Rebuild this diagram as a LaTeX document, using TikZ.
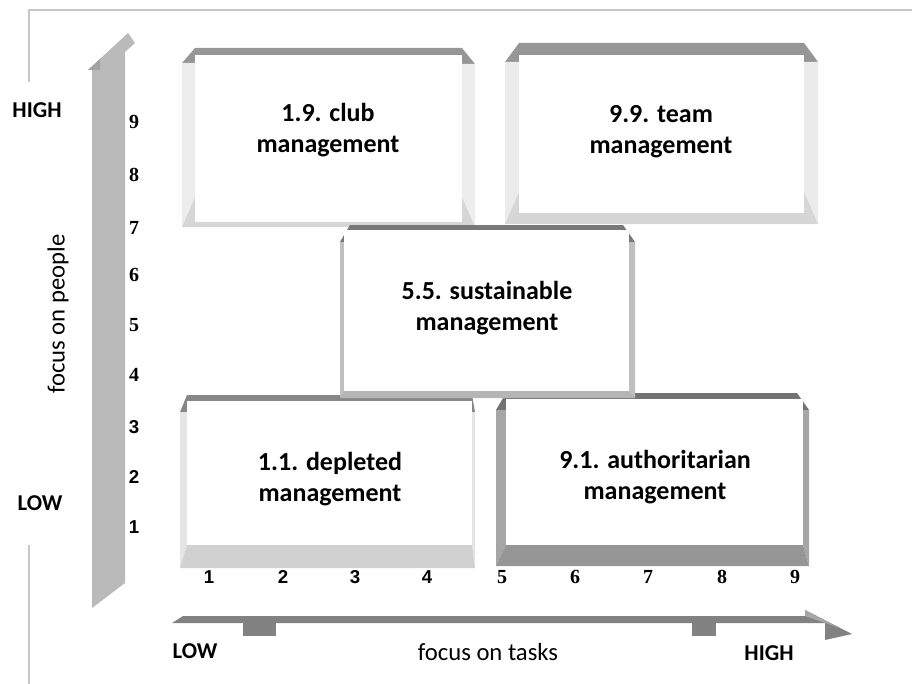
\documentclass[tikz,border=0pt]{standalone}
\usepackage{fontspec}
\setmainfont{Carlito}
\newfontfamily\digitsans{Liberation Sans}
\newfontfamily\digitserif{Liberation Serif}
\usepackage{tikz}

\begin{document}
\begin{tikzpicture}[x=0.75pt,y=-0.75pt,
  boxtext/.style={font=\fontsize{19.5}{23.5}\selectfont\bfseries, align=center},
  lohi/.style={font=\fontsize{17}{20}\selectfont\bfseries},
  axistitle/.style={font=\fontsize{18.5}{22}\selectfont},
  numsans/.style={font=\fontsize{14}{16}\selectfont\digitsans\bfseries},
  numserif/.style={font=\fontsize{15}{17}\selectfont\digitserif\bfseries},
  frameline/.style={line width=1.1pt, black!22}]
\useasboundingbox (0,0) rectangle (912,684);

\draw [frameline] (29,82) -- (29,10) -- (912,10);
\draw [frameline] (29,545) -- (29,684);

% axes
\fill [black!27] (92,608) -- (92,70) -- (88,70) -- (128,33) -- (135,43) -- (125,52) -- (125,583) -- cycle;
\fill [black!36] (88,70) -- (100,59) -- (100,70) -- cycle;

\fill [black!49] (172,623) -- (183,616) -- (805,616) -- (805,610) -- (852,634) -- (825,640) -- (825,623) -- cycle;
\fill [black!35] (805,610) -- (840,628) -- (805,616) -- cycle;
\fill [black!49] (243,620) rectangle (276,636);
\fill [black!49] (692,620) rectangle (716,636);

% 1.1 box
\fill [black!47] (180,412) -- (187,395) -- (472,395) -- (475,412) -- (472,412) -- (472,401) -- (187,401) -- (187,412) -- cycle;
\fill [black!10] (180,412) -- (187,412) -- (187,545) -- (180,568) -- cycle;
\fill [black!10] (475,412) -- (472,412) -- (472,545) -- (475,568) -- cycle;
\fill [black!18] (180,568) -- (187,545) -- (472,545) -- (475,568) -- cycle;
\fill [white] (187,401) rectangle (472,545);

% 9.1 box
\fill [black!55] (496,410) -- (506,393) -- (797,393) -- (809,410) -- (803,410) -- (803,399) -- (506,399) -- (506,410) -- cycle;
\fill [black!35] (496,410) -- (506,410) -- (506,545) -- (496,566) -- cycle;
\fill [black!35] (809,410) -- (803,410) -- (803,545) -- (809,566) -- cycle;
\fill [black!41] (496,566) -- (506,545) -- (803,545) -- (809,566) -- cycle;
\fill [white] (506,399) rectangle (803,545);

% 1.9 box
\fill [black!41] (182,63) -- (195,48) -- (462,48) -- (475,64) -- (462,64) -- (462,55) -- (195,55) -- (195,63) -- cycle;
\fill [black!7] (182,63) -- (195,63) -- (195,197) -- (182,227) -- cycle;
\fill [black!7] (475,64) -- (462,64) -- (462,197) -- (475,227) -- cycle;
\fill [black!16] (182,227) -- (195,197) -- (195,222) -- (462,222) -- (462,197) -- (475,227) -- cycle;
\fill [white] (195,55) rectangle (462,222);

% 9.9 box
\fill [black!41] (505,62) -- (519,43) -- (804,43) -- (818,62) -- (804,62) -- (804,55) -- (519,55) -- (519,62) -- cycle;
\fill [black!8] (505,62) -- (519,62) -- (519,192) -- (505,224) -- cycle;
\fill [black!8] (818,62) -- (804,62) -- (804,192) -- (818,224) -- cycle;
\fill [black!16] (505,224) -- (519,192) -- (519,213) -- (804,213) -- (804,192) -- (818,224) -- cycle;
\fill [white] (519,55) rectangle (804,213);

% 5.5 box, on top of the others
\fill [black!53] (340,242) -- (350,225) -- (623,225) -- (635,242) -- (629,242) -- (629,230) -- (344,230) -- (344,242) -- cycle;
\fill [black!25] (340,242) -- (344,242) -- (344,391) -- (340,398) -- cycle;
\fill [black!25] (635,242) -- (629,242) -- (629,391) -- (635,398) -- cycle;
\fill [black!29] (340,398) -- (344,391) -- (629,391) -- (635,398) -- cycle;
\fill [white] (344,230) rectangle (629,391);

\node [boxtext] (club) at (328,130) {1.9. club\\management};
\node [boxtext] (team) at (661,132) {9.9. team\\management};
\node [boxtext] (middle) at (487,308) {5.5. sustainable\\management};
\node [boxtext] (depleted) at (330,479) {1.1. depleted\\management};
\node [boxtext] (authority) at (655,477) {9.1. authoritarian\\management};

% % % % % % % % % % % % % % % % % % % % % % % % % %

\node [lohi] (yhigh) at (37,110) {HIGH};
\node [lohi] (ylow) at (40,503) {LOW};
\node [lohi] (xlow) at (195,651) {LOW};
\node [lohi] (xhigh) at (769,653) {HIGH};
\node [axistitle, rotate=90] (ytitle) at (58,314) {focus on people};
\node [axistitle] (xtitle) at (488,652) {focus on tasks};

\node [numserif] (y9) at (134,122) {9};
\node [numserif] (y8) at (134,175) {8};
\node [numserif] (y7) at (134,228) {7};
\node [numserif] (y6) at (134,275) {6};
\node [numserif] (y5) at (134,325) {5};
\node [numserif] (y4) at (134,375) {4};
\node [numsans] (y3) at (134,427) {3};
\node [numsans] (y2) at (134,477) {2};
\node [numsans] (y1) at (134,527) {1};

\node [numsans] (x1) at (209,577) {1};
\node [numsans] (x2) at (283,577) {2};
\node [numsans] (x3) at (355,577) {3};
\node [numsans] (x4) at (427,577) {4};
\node [numserif] (x5) at (502,577) {5};
\node [numserif] (x6) at (575,577) {6};
\node [numserif] (x7) at (648,577) {7};
\node [numserif] (x8) at (722,577) {8};
\node [numserif] (x9) at (795,577) {9};
\end{tikzpicture}
\end{document}
